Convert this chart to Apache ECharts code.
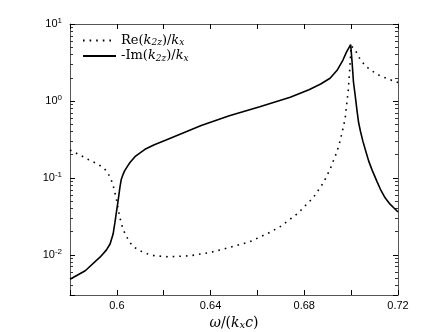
<!DOCTYPE html>
<html>
<head>
<meta charset="utf-8">
<script src="https://cdn.jsdelivr.net/npm/echarts@6/dist/echarts.min.js"></script>
<style>
  html, body { margin: 0; padding: 0; background: #fff; }
  #chart { width: 440px; height: 332px; }
</style>
</head>
<body>
<div id="chart"></div>
<script>
// omega / (kx c) and the two curves
const reOmega = [0.580, 0.584, 0.588, 0.5915, 0.5946, 0.5962, 0.5975, 0.5984, 0.5998, 0.6012, 0.6026, 0.6040,
  0.6055, 0.6075, 0.6098, 0.6130, 0.6161, 0.6220, 0.6312, 0.6398, 0.6483, 0.6568, 0.6654, 0.6700, 0.6739,
  0.6775, 0.6796, 0.6839, 0.6882, 0.6910, 0.6938, 0.6953, 0.6974, 0.6988, 0.6995, 0.7000, 0.7017, 0.7040,
  0.7060, 0.7080, 0.7120, 0.7160, 0.7200];
const reValues = [0.23, 0.20, 0.172, 0.153, 0.133, 0.115, 0.096, 0.080, 0.053, 0.031, 0.0216, 0.0175,
  0.0145, 0.0125, 0.0113, 0.0103, 0.0097, 0.0094, 0.0097, 0.0107, 0.0125, 0.0148, 0.0196, 0.0235, 0.029,
  0.035, 0.041, 0.0556, 0.087, 0.129, 0.213, 0.302, 0.577, 1.41, 2.83, 5.2, 4.6, 3.4,
  2.9, 2.55, 2.15, 1.92, 1.73];

const imOmega = [0.580, 0.5865, 0.5928, 0.5955, 0.5971, 0.5984, 0.5992, 0.5997, 0.6002, 0.6008, 0.6013,
  0.6019, 0.6026, 0.6033, 0.6045, 0.6056, 0.6080, 0.6120, 0.6160, 0.6210, 0.6280, 0.6360, 0.6480, 0.6610,
  0.6740, 0.6820, 0.6870, 0.6910, 0.6940, 0.6965, 0.6980, 0.6998, 0.7004, 0.7010, 0.7017, 0.7025,
  0.7032, 0.7040, 0.7050, 0.7060, 0.7075, 0.7090, 0.7110, 0.7125, 0.7145, 0.7166, 0.7185, 0.7200];
const imValues = [0.0048, 0.0062, 0.0093, 0.0115, 0.0138, 0.0186, 0.0265, 0.034, 0.043, 0.058, 0.075,
  0.096, 0.110, 0.123, 0.141, 0.158, 0.192, 0.235, 0.27, 0.31, 0.38, 0.48, 0.64, 0.84,
  1.12, 1.40, 1.66, 1.97, 2.5, 3.4, 4.3, 5.4, 3.2, 1.75, 1.2, 0.75,
  0.52, 0.40, 0.30, 0.235, 0.165, 0.125, 0.09, 0.071, 0.055, 0.0455, 0.040, 0.036];

const xLabelTicks = [0.6, 0.64, 0.68, 0.72];
const seriesNames = ['Re(k2z)/kx', '-Im(k2z)/kx'];
const legendRich = {
  'Re(k2z)/kx': '{r|Re(}{i|k}{s|2z}{r|)/}{i|k}{s|x}',
  '-Im(k2z)/kx': '{r|-Im(}{i|k}{s|2z}{r|)/}{i|k}{s|x}'
};

const axisColor = '#555';
const serif = '"DejaVu Serif", "Liberation Serif", serif';
const sans = '"Liberation Sans", Arial, sans-serif';

const pairs = (xs, ys) => xs.map((x, i) => [x, ys[i]]);

const isDecade = v => Math.abs(Math.log10(v) - Math.round(Math.log10(v))) < 1e-6;

const xBase = {
  type: 'value', min: 0.58, max: 0.72, interval: 0.02,
  axisLine: { lineStyle: { color: axisColor, width: 1 } },
  axisTick: { inside: true, length: 5, lineStyle: { color: '#000' } },
  splitLine: { show: false }
};
const yBase = {
  type: 'log', logBase: 10, min: 0.003, max: 10,
  axisLine: { show: true, lineStyle: { color: axisColor, width: 1 } },
  axisTick: { inside: true, length: 5, lineStyle: { color: '#000' } },
  minorTick: { show: true, splitNumber: 9, length: 3, lineStyle: { color: '#333' } },
  splitLine: { show: false }
};

const chart = echarts.init(document.getElementById('chart'));
chart.setOption({
  backgroundColor: '#fff',
  animation: false,
  grid: { left: 70, right: 42, top: 24, bottom: 37, containLabel: false, outerBoundsMode: 'none' },
  legend: {
    orient: 'vertical', left: 77, top: 29, itemWidth: 33, itemHeight: 8, itemGap: 2,
    data: seriesNames,
    itemStyle: { opacity: 0 },
    formatter: name => legendRich[name],
    textStyle: {
      rich: {
        r: { fontFamily: serif, fontSize: 13, color: '#000', lineHeight: 14 },
        i: { fontFamily: serif, fontSize: 13, fontStyle: 'italic', color: '#000', lineHeight: 14 },
        s: { fontFamily: serif, fontSize: 9, fontStyle: 'italic', color: '#000', lineHeight: 6, verticalAlign: 'bottom' }
      }
    }
  },
  xAxis: [
    Object.assign({}, xBase, {
      position: 'bottom',
      axisLabel: {
        color: '#000', fontFamily: sans, fontSize: 11, margin: 5,
        formatter: v => xLabelTicks.some(t => Math.abs(t - v) < 1e-6) ? String(+v.toFixed(2)) : ''
      },
      name: '{i|ω}{r|/(}{i|k}{s|x}{i|c}{r|)}',
      nameLocation: 'middle', nameGap: 13,
      nameTextStyle: {
        rich: {
          r: { fontFamily: serif, fontSize: 14, color: '#000', lineHeight: 16 },
          i: { fontFamily: serif, fontSize: 14, fontStyle: 'italic', color: '#000', lineHeight: 16 },
          s: { fontFamily: serif, fontSize: 10, fontStyle: 'italic', color: '#000', lineHeight: 6, verticalAlign: 'bottom' }
        }
      }
    }),
    Object.assign({}, xBase, { position: 'top', axisLabel: { show: false } })
  ],
  yAxis: [
    Object.assign({}, yBase, {
      position: 'left',
      axisLabel: {
        margin: 8,
        formatter: v => isDecade(v) ? '{b|10}{e|' + Math.round(Math.log10(v)) + '}' : '',
        rich: {
          b: { fontFamily: sans, fontSize: 11, color: '#000', lineHeight: 14 },
          e: { fontFamily: sans, fontSize: 8, color: '#000', lineHeight: 8, verticalAlign: 'top' }
        }
      }
    }),
    Object.assign({}, yBase, { position: 'right', axisLabel: { show: false } })
  ],
  series: [
    {
      name: seriesNames[0], type: 'line', symbol: 'none',
      data: pairs(reOmega, reValues),
      itemStyle: { color: '#000' },
      lineStyle: { color: '#000', width: 1.6, type: [1.6, 5] }
    },
    {
      name: seriesNames[1], type: 'line', symbol: 'none',
      data: pairs(imOmega, imValues),
      itemStyle: { color: '#000' },
      lineStyle: { color: '#000', width: 1.6, type: 'solid' }
    }
  ]
});
</script>
</body>
</html>
